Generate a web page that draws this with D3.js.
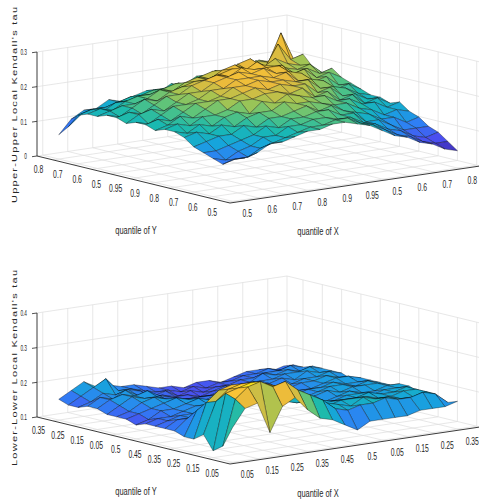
<!DOCTYPE html>
<html>
<head>
<meta charset="utf-8">
<script src="https://cdn.jsdelivr.net/npm/d3@7"></script>
<style>
  body { margin: 0; background: #fff; }
  text { font-family: "Liberation Sans", Arial, sans-serif; fill: #262626; }
</style>
</head>
<body>
<svg id="chart" width="479" height="504"></svg>
<script>
// grid nodes of the surfaces (index units on both floor axes)
const gridPos = [1, 1.5, 2, 2.5, 3, 3.5, 4, 4.5, 5, 5.5, 6, 6.5, 7, 7.5, 8, 8.5, 9, 9.5, 10];
const tickPos = [1, 2, 3, 4, 5, 6, 7, 8, 9, 10];

const upperYLabels = ["0.8", "0.7", "0.6", "0.5", "0.95", "0.9", "0.8", "0.7", "0.6", "0.5"];
const upperXLabels = ["0.5", "0.6", "0.7", "0.8", "0.9", "0.95", "0.5", "0.6", "0.7", "0.8"];
const upperZTicks = [0, 0.1, 0.2, 0.3];

const lowerYLabels = ["0.35", "0.25", "0.15", "0.05", "0.5", "0.45", "0.35", "0.25", "0.15", "0.05"];
const lowerXLabels = ["0.05", "0.15", "0.25", "0.35", "0.45", "0.5", "0.05", "0.15", "0.25", "0.35"];
const lowerZTicks = [0.1, 0.2, 0.3, 0.4];

// rows: quantile of Y index (gridPos), columns: quantile of X index (gridPos)
const upperTau = [
  [0.07,0.11,0.13,0.13,0.15,0.14,0.15,0.16,0.15,0.17,0.16,0.18,0.17,0.18,0.19,0.18,0.20,0.19,0.21],
  [0.10,0.13,0.14,0.14,0.15,0.16,0.15,0.17,0.17,0.16,0.18,0.19,0.18,0.20,0.19,0.21,0.20,0.28,0.20],
  [0.14,0.15,0.14,0.16,0.16,0.17,0.18,0.17,0.19,0.18,0.19,0.21,0.20,0.21,0.22,0.20,0.26,0.21,0.22],
  [0.15,0.16,0.15,0.17,0.18,0.18,0.19,0.20,0.19,0.21,0.22,0.20,0.23,0.24,0.21,0.23,0.21,0.20,0.19],
  [0.15,0.16,0.17,0.17,0.18,0.20,0.19,0.21,0.22,0.21,0.23,0.24,0.22,0.23,0.22,0.21,0.20,0.21,0.18],
  [0.16,0.15,0.17,0.19,0.18,0.20,0.21,0.22,0.22,0.23,0.24,0.23,0.25,0.22,0.23,0.20,0.21,0.19,0.20],
  [0.16,0.17,0.16,0.18,0.20,0.20,0.22,0.23,0.24,0.23,0.25,0.24,0.24,0.24,0.21,0.22,0.19,0.20,0.18],
  [0.15,0.17,0.18,0.17,0.19,0.21,0.21,0.23,0.24,0.25,0.24,0.25,0.23,0.23,0.22,0.19,0.20,0.17,0.17],
  [0.16,0.15,0.17,0.19,0.19,0.20,0.22,0.22,0.24,0.24,0.24,0.23,0.24,0.21,0.21,0.20,0.17,0.18,0.16],
  [0.16,0.17,0.16,0.18,0.20,0.20,0.21,0.23,0.23,0.24,0.23,0.23,0.22,0.22,0.19,0.19,0.18,0.16,0.15],
  [0.15,0.16,0.18,0.17,0.19,0.21,0.21,0.22,0.23,0.22,0.23,0.22,0.22,0.19,0.20,0.17,0.17,0.15,0.15],
  [0.16,0.17,0.16,0.18,0.18,0.19,0.21,0.21,0.22,0.22,0.21,0.22,0.19,0.20,0.17,0.18,0.15,0.16,0.14],
  [0.16,0.15,0.17,0.16,0.18,0.19,0.18,0.21,0.20,0.22,0.21,0.20,0.20,0.18,0.18,0.16,0.16,0.14,0.15],
  [0.15,0.16,0.15,0.17,0.16,0.18,0.19,0.19,0.21,0.20,0.20,0.19,0.18,0.18,0.16,0.15,0.13,0.14,0.13],
  [0.13,0.14,0.15,0.15,0.17,0.16,0.18,0.18,0.19,0.20,0.18,0.19,0.17,0.16,0.15,0.13,0.13,0.11,0.12],
  [0.12,0.12,0.13,0.14,0.15,0.17,0.16,0.18,0.18,0.19,0.19,0.17,0.17,0.14,0.14,0.12,0.10,0.10,0.10],
  [0.11,0.10,0.12,0.13,0.15,0.15,0.17,0.17,0.18,0.18,0.17,0.17,0.15,0.14,0.12,0.11,0.09,0.08,0.09],
  [0.10,0.11,0.11,0.13,0.14,0.15,0.16,0.17,0.17,0.18,0.18,0.16,0.15,0.13,0.11,0.10,0.08,0.07,0.07],
  [0.12,0.12,0.13,0.15,0.15,0.16,0.17,0.17,0.18,0.18,0.17,0.16,0.14,0.12,0.11,0.09,0.08,0.06,0.05]
];

const lowerTau = [
  [0.16,0.18,0.20,0.18,0.18,0.17,0.17,0.16,0.15,0.15,0.14,0.15,0.15,0.14,0.15,0.16,0.16,0.15,0.16],
  [0.15,0.17,0.19,0.21,0.17,0.17,0.16,0.15,0.15,0.14,0.15,0.14,0.15,0.15,0.16,0.16,0.17,0.16,0.17],
  [0.15,0.16,0.18,0.17,0.18,0.17,0.15,0.16,0.14,0.15,0.14,0.15,0.15,0.16,0.16,0.17,0.17,0.18,0.17],
  [0.16,0.18,0.17,0.19,0.17,0.16,0.16,0.15,0.15,0.14,0.15,0.16,0.15,0.16,0.18,0.17,0.18,0.17,0.18],
  [0.16,0.18,0.19,0.18,0.19,0.17,0.16,0.15,0.15,0.15,0.16,0.15,0.16,0.17,0.17,0.18,0.18,0.19,0.18],
  [0.15,0.17,0.19,0.18,0.18,0.16,0.16,0.16,0.16,0.16,0.16,0.16,0.16,0.17,0.18,0.17,0.19,0.18,0.18],
  [0.15,0.16,0.18,0.19,0.18,0.17,0.16,0.16,0.17,0.17,0.16,0.17,0.17,0.16,0.17,0.18,0.18,0.19,0.18],
  [0.15,0.16,0.17,0.18,0.19,0.18,0.17,0.17,0.16,0.17,0.17,0.16,0.17,0.17,0.18,0.18,0.19,0.18,0.17],
  [0.14,0.15,0.17,0.17,0.18,0.19,0.18,0.18,0.17,0.16,0.17,0.17,0.16,0.17,0.17,0.18,0.19,0.19,0.18],
  [0.15,0.16,0.16,0.17,0.18,0.18,0.19,0.18,0.18,0.17,0.16,0.17,0.17,0.18,0.18,0.19,0.18,0.18,0.18],
  [0.15,0.16,0.17,0.17,0.19,0.18,0.19,0.20,0.18,0.18,0.17,0.18,0.17,0.18,0.19,0.19,0.18,0.19,0.18],
  [0.15,0.17,0.17,0.18,0.18,0.20,0.19,0.20,0.19,0.19,0.18,0.17,0.18,0.19,0.18,0.19,0.19,0.19,0.18],
  [0.15,0.18,0.19,0.20,0.21,0.20,0.22,0.21,0.20,0.19,0.18,0.18,0.17,0.18,0.19,0.18,0.18,0.19,0.19],
  [0.14,0.21,0.23,0.24,0.23,0.23,0.22,0.21,0.20,0.19,0.19,0.18,0.18,0.19,0.19,0.18,0.19,0.19,0.19],
  [0.14,0.24,0.27,0.28,0.27,0.26,0.25,0.23,0.22,0.20,0.20,0.19,0.19,0.19,0.20,0.19,0.19,0.20,0.18],
  [0.16,0.25,0.28,0.29,0.29,0.28,0.26,0.24,0.23,0.21,0.19,0.20,0.20,0.20,0.19,0.19,0.20,0.20,0.18],
  [0.12,0.28,0.29,0.30,0.29,0.28,0.27,0.25,0.23,0.21,0.20,0.19,0.21,0.20,0.20,0.19,0.19,0.20,0.18],
  [0.14,0.27,0.30,0.31,0.29,0.30,0.27,0.25,0.23,0.20,0.19,0.20,0.20,0.21,0.20,0.20,0.21,0.20,0.17],
  [0.20,0.25,0.26,0.17,0.24,0.26,0.22,0.19,0.18,0.16,0.14,0.16,0.16,0.16,0.16,0.17,0.17,0.17,0.18]
];

// parula-like colormap
const cmapStops = [0, 0.12, 0.25, 0.37, 0.48, 0.58, 0.68, 0.78, 0.88, 1];
const cmapColors = ["#3e26a8", "#4a4ef0", "#2f7ff5", "#16a5dc", "#19b9b0", "#5bc47c", "#a6c451", "#e8ba3c", "#fcc535", "#f9fb0e"];

const svg = d3.select("#chart");

// box geometry shared by both panels
const yLimits = [0.17, 10.17];
const xLimits = [0.77, 10.77];
const yEdge = [193, 47];
const xEdge = [250, -37];
const boxHeight = 104;
const squeeze = 0.68;

function label(g, x, y, str, size, anchor, sx) {
  g.append("text")
    .attr("transform", `translate(${x},${y}) scale(${sx || squeeze},1)`)
    .attr("text-anchor", anchor)
    .attr("dy", "0.35em")
    .style("font-size", size + "px")
    .text(str);
}

function drawPanel(p) {
  const g = svg.append("g");
  const ySc = d3.scaleLinear().domain(yLimits).range([0, 1]);
  const xSc = d3.scaleLinear().domain(xLimits).range([0, 1]);
  const zSc = d3.scaleLinear().domain(p.zDomain).range([0, boxHeight]);
  const proj = (i, j, z) => {
    const a = ySc(i), b = xSc(j);
    return [p.origin[0] + a * yEdge[0] + b * xEdge[0],
            p.origin[1] + a * yEdge[1] + b * xEdge[1] - zSc(z)];
  };
  const path = pts => "M" + pts.map(q => q[0].toFixed(2) + "," + q[1].toFixed(2)).join("L");
  const [y0, y1] = yLimits, [x0, x1] = xLimits, [z0, z1] = p.zDomain;

  // grid on floor and back walls
  const gridLines = [];
  tickPos.forEach(t => {
    gridLines.push([proj(t, x0, z0), proj(t, x1, z0)]);
    gridLines.push([proj(y0, t, z0), proj(y1, t, z0)]);
    gridLines.push([proj(y0, t, z0), proj(y0, t, z1)]);
    gridLines.push([proj(t, x1, z0), proj(t, x1, z1)]);
  });
  p.zTicks.forEach(z => {
    gridLines.push([proj(y0, x0, z), proj(y0, x1, z), proj(y1, x1, z)]);
  });
  gridLines.push([proj(y0, x1, z0), proj(y0, x1, z1)]);
  g.append("g").selectAll("path").data(gridLines).enter().append("path")
    .attr("d", path)
    .attr("fill", "none")
    .attr("stroke", "#dcdcdc")
    .attr("stroke-width", 0.7);

  // axes
  const axisLines = [
    [proj(y0, x0, z0), proj(y0, x0, z1)],
    [proj(y0, x0, z0), proj(y1, x0, z0)],
    [proj(y1, x0, z0), proj(y1, x1, z0)]
  ];
  g.append("g").selectAll("path").data(axisLines).enter().append("path")
    .attr("d", path)
    .attr("fill", "none")
    .attr("stroke", "#262626")
    .attr("stroke-width", 0.9);

  // z ticks and labels
  p.zTicks.forEach(z => {
    const q = proj(y0, x0, z);
    g.append("path").attr("d", path([q, [q[0] - 5, q[1] + 0.7]]))
      .attr("stroke", "#262626").attr("stroke-width", 0.8);
    label(g, q[0] - 10, q[1], String(z), 9.5, "end", 0.5);
  });
  // floor tick labels
  tickPos.forEach((t, k) => {
    const qy = proj(t, x0, z0);
    label(g, qy[0] - 14.5, qy[1] + 10, p.yLabels[k], 10, "middle");
    const qx = proj(y1, t, z0);
    label(g, qx[0] + 11.5, qx[1] + 11.5, p.xLabels[k], 10, "middle");
  });

  // axis titles
  label(g, 136, p.titleY, "quantile of Y", 11, "middle");
  label(g, 318, p.titleY + 1.5, "quantile of X", 11, "middle");
  g.append("text")
    .attr("transform", `translate(16.5,${p.zTitleY}) scale(0.6,1) rotate(-90)`)
    .attr("text-anchor", "middle")
    .attr("textLength", 196)
    .attr("lengthAdjust", "spacing")
    .style("font-size", "11px")
    .text(p.zTitle);

  // surface
  const vals = p.values;
  const cmin = d3.min(vals, r => d3.min(r)), cmax = d3.max(vals, r => d3.max(r));
  const color = d3.scaleLinear()
    .domain(cmapStops.map(s => cmin + s * (cmax - cmin)))
    .range(cmapColors)
    .interpolate(d3.interpolateRgb);
  const quads = [];
  for (let r = 0; r < gridPos.length - 1; r++) {
    for (let c = 0; c < gridPos.length - 1; c++) {
      const i0 = gridPos[r], i1 = gridPos[r + 1], j0 = gridPos[c], j1 = gridPos[c + 1];
      const v = [vals[r][c], vals[r][c + 1], vals[r + 1][c + 1], vals[r + 1][c]];
      const ic = (i0 + i1) / 2, jc = (j0 + j1) / 2;
      quads.push({
        pts: [proj(i0, j0, v[0]), proj(i0, j1, v[1]), proj(i1, j1, v[2]), proj(i1, j0, v[3])],
        value: d3.mean(v),
        depth: ySc(ic) * yEdge[1] + xSc(jc) * xEdge[1]
      });
    }
  }
  quads.sort((a, b) => a.depth - b.depth);
  g.append("g").selectAll("path").data(quads).enter().append("path")
    .attr("d", d => path(d.pts) + "Z")
    .attr("fill", d => color(d.value))
    .attr("stroke", "#000")
    .attr("stroke-opacity", 0.75)
    .attr("stroke-width", 0.45)
    .attr("stroke-linejoin", "round");
}

drawPanel({
  origin: [37, 156], zDomain: [0, 0.3], zTicks: upperZTicks,
  yLabels: upperYLabels, xLabels: upperXLabels, values: upperTau,
  zTitle: "Upper-Upper Local Kendall's tau", zTitleY: 105, titleY: 230
});
drawPanel({
  origin: [37, 417], zDomain: [0.1, 0.4], zTicks: lowerZTicks,
  yLabels: lowerYLabels, xLabels: lowerXLabels, values: lowerTau,
  zTitle: "Lower-Lower Local Kendall's tau", zTitleY: 368, titleY: 491.5
});
</script>
</body>
</html>
